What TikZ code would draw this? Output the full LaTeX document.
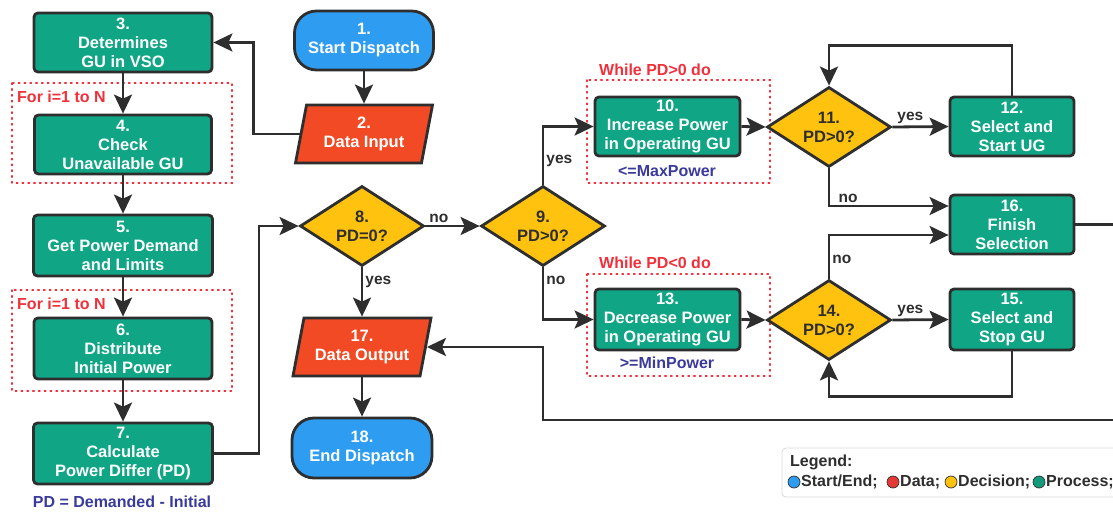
\documentclass[tikz,border=0pt]{standalone}
\usepackage{fontspec}
\setmainfont{Liberation Sans}
\usetikzlibrary{arrows.meta,shapes.geometric}

\definecolor{procgreen}{HTML}{10A585}
\definecolor{termblue}{HTML}{2E9CF0}
\definecolor{datared}{HTML}{F24A24}
\definecolor{decyellow}{HTML}{FFC20E}
\definecolor{edgegray}{HTML}{2E2E2E}
\definecolor{notered}{HTML}{F0303A}
\definecolor{noteblue}{HTML}{3A3A9C}
\definecolor{legendred}{HTML}{E53935}
\definecolor{legendgreen}{HTML}{139A7A}

\tikzset{
  base/.style={draw=edgegray, line width=2.8pt, text=white, align=center, inner sep=0pt,
    font=\bfseries\fontsize{16.5}{19}\selectfont},
  proc/.style={base, rectangle, rounded corners=4pt, fill=procgreen},
  term/.style={base, rectangle, rounded corners=22pt, fill=termblue},
  datanode/.style={base, trapezium, trapezium left angle=72, trapezium right angle=108,
    trapezium stretches body, fill=datared, minimum height=58pt},
  decision/.style={base, diamond, aspect=1.55, fill=decyellow, text=edgegray,
    minimum width=124pt, minimum height=80pt},
  flow/.style={draw=edgegray, line width=2.8pt, -{Stealth[length=19pt,width=18pt,inset=4pt]}},
  plainline/.style={draw=edgegray, line width=2.8pt},
  edgelabel/.style={text=edgegray, font=\bfseries\fontsize{15.5}{18}\selectfont, inner sep=2pt},
  loopframe/.style={draw=notered, line width=1.5pt, dash pattern=on 1.4pt off 4.4pt, line cap=round},
  loopnote/.style={text=notered, font=\bfseries\fontsize{16}{19}\selectfont, inner sep=0pt},
  limitnote/.style={text=noteblue, font=\bfseries\fontsize{16}{19}\selectfont, inner sep=0pt},
  legendtext/.style={text=edgegray, font=\bfseries\fontsize{16}{19}\selectfont, inner sep=0pt, anchor=west},
  legenddot/.style={circle, draw=edgegray, line width=0.7pt, minimum size=12pt, inner sep=0pt},
}

\begin{document}
\begin{tikzpicture}[x=1pt,y=-1pt]
\useasboundingbox (0,0) rectangle (1113,513);
\clip (0,0) rectangle (1113,513);

% loop frames
\draw[loopframe] (12,83) rectangle (232,183);
\draw[loopframe] (12,290) rectangle (232,391);
\draw[loopframe] (587,80) rectangle (770,183);
\draw[loopframe] (587,274) rectangle (770,376);

% left column: preparation
\node[proc, minimum width=178pt, minimum height=59pt] (n3) at (123,42.5) {3.\\Determines\\GU in VSO};
\node[proc, minimum width=177pt, minimum height=59pt] (n4) at (123,144.5) {4.\\Check\\Unavailable GU};
\node[proc, minimum width=179pt, minimum height=61pt] (n5) at (123,245.5) {5.\\Get Power Demand\\and Limits};
\node[proc, minimum width=178pt, minimum height=61pt] (n6) at (123,348.5) {6.\\Distribute\\Initial Power};
\node[proc, minimum width=179pt, minimum height=61pt] (n7) at (123,453.5) {7.\\Calculate\\Power Differ (PD)};

% start, input, output, end
\node[term, minimum width=139pt, minimum height=59pt] (n1) at (364,40.5) {1.\\Start Dispatch};
\node[datanode, minimum width=137pt] (n2) at (364,134) {2.\\Data Input};
\node[decision] (n8) at (362,226) {8.\\PD=0?};
\node[datanode, minimum width=138pt] (n17) at (362,347) {17.\\Data Output};
\node[term, minimum width=140pt, minimum height=60pt] (n18) at (362,448) {18.\\End Dispatch};

% right part: adjustment loops
\node[decision] (n9) at (543,226) {9.\\PD>0?};
\node[proc, minimum width=145pt, minimum height=59pt] (n10) at (667.5,126.5) {10.\\Increase Power\\in Operating GU};
\node[decision] (n11) at (829,127) {11.\\PD>0?};
\node[proc, minimum width=124pt, minimum height=59pt] (n12) at (1012,126.5) {12.\\Select and\\Start UG};
\node[proc, minimum width=124pt, minimum height=59pt] (n16) at (1012,224.5) {16.\\Finish\\Selection};
\node[proc, minimum width=145pt, minimum height=61pt] (n13) at (667.5,319.5) {13.\\Decrease Power\\in Operating GU};
\node[decision] (n14) at (829,320) {14.\\PD>0?};
\node[proc, minimum width=124pt, minimum height=61pt] (n15) at (1012,319.5) {15.\\Select and\\Stop GU};

% notes
\node[loopnote, anchor=west] (forA) at (17,97) {For i=1 to N};
\node[loopnote, anchor=west] (forB) at (17,304) {For i=1 to N};
\node[loopnote] (whileA) at (655,70) {While PD>0 do};
\node[loopnote] (whileB) at (655,263) {While PD<0 do};
\node[limitnote] (maxp) at (667,171) {<=MaxPower};
\node[limitnote] (minp) at (667,363) {>=MinPower};
\node[limitnote] (pdnote) at (122,502) {PD = Demanded - Initial};

% loose ends at the right border
\coordinate (outR) at (1125,224.5);
\coordinate (backR) at (1125,420);

% connectors
\draw[flow] (n1.south) -- (n1.south |- n2.north);
\draw[flow] (n2.west) -- ++(-46,0) |- (n3.east);
\draw[flow] (n3.south) -- (n4.north);
\draw[flow] (n4.south) -- (n5.north);
\draw[flow] (n5.south) -- (n6.north);
\draw[flow] (n6.south) -- (n7.north);
\draw[flow] (n7.east) -- ++(45,0) |- (n8.west);
\draw[flow] (n8.east) -- node[edgelabel, above, pos=0.25] {no} (n9.west);
\draw[flow] (n8.south) -- node[edgelabel, right, pos=0.3] {yes} (n8.south |- n17.north);
\draw[flow] (n17.south) -- (n17.south |- n18.north);
\draw[flow] (n9.north) |- node[edgelabel, right, pos=0.2] {yes} (n10.west);
\draw[flow] (n9.south) |- node[edgelabel, right, pos=0.12] {no} (n13.west);
\draw[flow] (n10.east) -- (n11.west);
\draw[flow] (n11.east) -- node[edgelabel, above, pos=0.32] {yes} (n12.west);
\draw[flow] (n12.north) -- ++(0,-50) -| (n11.north);
\draw[flow] (n11.south) |- node[edgelabel, above, pos=0.58] {no} ([yshift=18.5pt]n16.west);
\draw[flow] (n13.east) -- (n14.west);
\draw[flow] (n14.east) -- node[edgelabel, above, pos=0.32] {yes} (n15.west);
\draw[flow] (n14.north) |- node[edgelabel, right, pos=0.22] {no} ([yshift=-10.5pt]n16.west);
\draw[flow] (n15.south) -- ++(0,45) -| (n14.south);
\draw[plainline] (n16.east) -- (outR);
\draw[flow] (backR) -- (backR -| n9) |- (n17.east);

% legend
\draw[draw=black!15, line width=0.8pt, fill=white, rounded corners=4pt] (782,448) rectangle (1130,497);
\node[legendtext] (lgtitle) at (790,462) {Legend:};
\node[legenddot, fill=termblue] (lgA) at (794,482) {};
\node[legendtext] (lgAt) at (801,482) {Start/End;};
\node[legenddot, fill=legendred] (lgB) at (893,482) {};
\node[legendtext] (lgBt) at (900,482) {Data;};
\node[legenddot, fill=decyellow] (lgC) at (951,482) {};
\node[legendtext] (lgCt) at (958,482) {Decision;};
\node[legenddot, fill=legendgreen] (lgD) at (1039,482) {};
\node[legendtext] (lgDt) at (1046,482) {Process;};
\end{tikzpicture}
\end{document}
